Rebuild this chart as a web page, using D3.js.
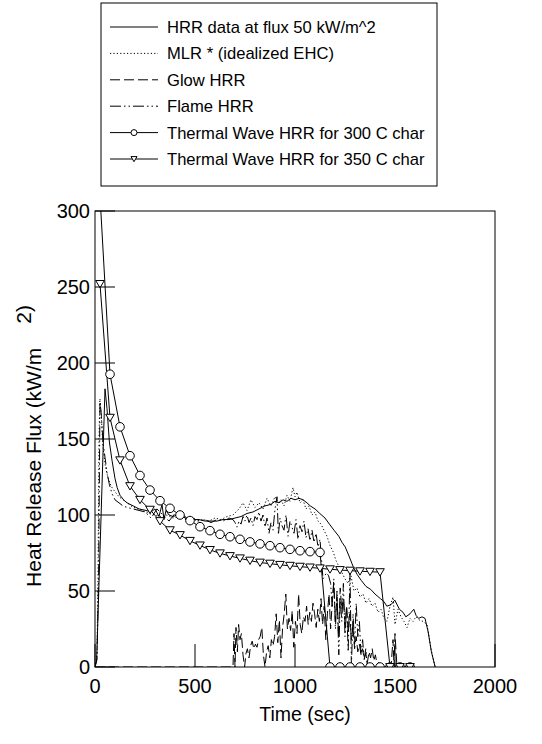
<!DOCTYPE html>
<html><head><meta charset="utf-8">
<script src="https://cdn.jsdelivr.net/npm/d3@7"></script>
<style>
body{margin:0;background:#fff;}
text{font-family:Arial,"Liberation Sans",Helvetica,sans-serif;fill:#000;}
</style></head>
<body><svg id="chart" width="542" height="744"></svg>
<script>
// ---------- data ----------
const xTicks=[0,500,1000,1500,2000];
const yTicks=[0,50,100,150,200,250,300];
const seriesNames=["HRR data at flux 50 kW/m^2","MLR * (idealized EHC)","Glow HRR","Flame HRR","Thermal Wave HRR for 300 C char","Thermal Wave HRR for 350 C char"];

const hrrTime=[0,8,50,60,72,85,100,111,125,143,160,191,220,255,280,300,320,335,345,355,370,390,410,430,460,490,520,550,580,610,640,670,700,730,760,790,820,850,880,900,920,940,960,980,1000,1020,1040,1060,1076,1100,1124,1150,1172,1195,1219,1235,1251,1270,1291,1310,1331,1355,1379,1400,1427,1445,1459,1480,1499,1522,1540,1554,1575,1594,1605,1618,1635,1650,1666,1682,1701];
const hrrValue=[0,4,183,170,148,136,124,118,113,110,108,106,104,103,102,104,99,107,97,103,100,99,100,101,98,97,97,96,96,96,97,97,98,99,101,102,104,106,107,109,108,110,109,111,110,111,110,108,106,104,101,98,94,90,86,82,79,73,66,61,57,53,51,48,45,43,40,41,44,38,36,33,35,38,34,32,33,32,23,10,0];

const mlrTime=[0,10,15,20,24,30,40,52,64,80,96,120,151,180,210,240,270,300,330,360,390,420,450,480,510,540,570,600,630,660,690,720,740,760,780,800,820,840,860,880,900,915,930,945,960,975,990,1000,1010,1025,1040,1055,1070,1085,1100,1115,1130,1145,1160,1175,1190,1205,1220,1235,1250,1265,1280,1295,1310,1325,1340,1355,1370,1385,1400,1415,1430,1445,1460,1475,1490,1500,1515,1530,1545,1560,1575,1590,1605,1620,1640,1660,1680,1700];
const mlrValue=[0,8,60,150,175,168,145,132,125,119,116,112,109,106,104,103,101,100,99,100,98,99,97,98,96,97,96,98,97,99,100,104,108,103,110,105,108,104,111,106,112,108,110,106,113,109,118,112,115,108,110,104,106,100,102,96,94,90,86,80,76,70,66,62,58,55,60,50,52,46,48,42,45,40,42,36,38,32,30,40,46,28,38,33,30,26,32,30,33,31,30,28,12,0];

const glowTime=[0,690,695,700,705,712,718,725,732,740,748,755,762,770,778,786,794,802,810,818,826,834,842,850,858,866,874,882,890,898,906,914,922,930,938,946,954,962,970,978,986,994,1002,1010,1018,1026,1034,1042,1050,1058,1066,1074,1082,1090,1098,1106,1114,1122,1130,1138,1146,1154,1162,1170,1178,1186,1194,1202,1210,1218,1226,1234,1242,1250,1258,1266,1274,1282,1290,1298,1306,1314,1322,1330,1338,1346,1354,1362,1370,1378,1386,1394,1402,1410,1418,1426,1480,1490,1495,1500,1510,1600];
const glowValue=[0,0,22,0,26,10,28,18,22,8,0,9,12,6,14,17,12,15,13,18,20,26,8,0,10,14,6,18,14,20,35,16,31,6,26,35,48,25,32,24,37,13,30,22,48,28,22,33,30,40,28,36,30,42,35,26,38,30,45,28,40,18,35,48,25,42,55,30,46,20,52,38,45,28,40,22,35,18,26,12,20,10,15,8,12,5,9,3,10,6,12,4,8,2,3,0,0,18,0,22,0,0];

const flameTime=[0,10,18,25,32,40,50,60,72,85,100,120,140,160,190,220,250,280,310,340,370,400,430,460,490,520,550,580,610,640,670,690,700,710,720,730,740,750,760,770,780,790,800,810,820,830,840,850,860,870,880,890,900,910,917,925,935,945,955,965,975,985,995,1005,1015,1025,1035,1045,1055,1065,1075,1085,1095,1105,1115,1125,1133,1140,1148,1158,1168,1178,1186,1194,1202,1210,1219,1226,1234,1242,1250,1258,1266,1275,1282,1290,1298,1306,1314,1322,1330,1338,1346,1354,1362,1380];
const flameValue=[0,5,60,176,165,148,138,128,120,114,110,108,106,105,104,103,102,98,104,100,96,101,99,97,98,96,97,95,97,96,98,97,95,92,96,94,99,96,100,95,98,93,99,97,102,96,100,92,98,88,95,90,104,112,87,98,93,90,100,86,96,92,88,97,84,93,89,96,85,91,83,90,82,88,79,84,70,58,60,62,60,55,40,58,25,50,8,45,30,55,20,40,10,62,0,35,15,42,20,30,8,18,5,12,0,0];

const twTime=[25,75,125,175,225,275,325,375,425,475,525,575,625,675,725,775,825,875,925,975,1025,1075,1125,1175,1225,1275,1325,1375,1425,1475,1525,1575];
const tw300Value=[310,192.6,158,139,126,116.4,109.4,104.4,100,96.3,92.3,89.7,87.3,85.7,84,82.3,81,79.8,78.5,77.4,76.5,75.9,75.4,0,0,0,0,0,0,0,0,0];
const tw350Value=[252,164,136,119,110,103.5,96,90,86.8,83,80,77,74.8,73,71.5,70,68.7,68,67.2,66.6,66,65.5,64.9,64.3,63.8,63.4,63,62.7,62.4,0,0,0];

// ---------- layout ----------
const L=95,R=495,T=211,B=667;
const svg=d3.select("#chart");
const x=d3.scaleLinear().domain([0,2000]).range([L,R]);
const y=d3.scaleLinear().domain([0,300]).range([B,T]);

svg.append("defs").append("clipPath").attr("id","clip")
  .append("rect").attr("x",L).attr("y",T).attr("width",R-L).attr("height",B-T);

const styles=[
  {dash:null},
  {dash:"1.2,2.2"},
  {dash:"10,4"},
  {dash:"11,3,1.5,3,1.5,3"},
  {dash:null,marker:"circle"},
  {dash:null,marker:"tri"}
];
const pairs=(t,v)=>t.map((ti,i)=>[ti,v[i]]);
const data=[pairs(hrrTime,hrrValue),pairs(mlrTime,mlrValue),pairs(glowTime,glowValue),pairs(flameTime,flameValue),pairs(twTime,tw300Value),pairs(twTime,tw350Value)];
const line=d3.line().x(d=>x(d[0])).y(d=>y(d[1]));

const plot=svg.append("g").attr("clip-path","url(#clip)");
[2,3,1,0,4,5].forEach(i=>{
  plot.append("path").datum(data[i]).attr("d",line)
    .attr("fill","none").attr("stroke","#000").attr("stroke-width",1)
    .attr("stroke-dasharray",styles[i].dash);
});
const triPath=(s)=>`M${-s},${-s*0.8}L${s},${-s*0.8}L0,${s*0.9}Z`;
function drawMarker(g,type,cx,cy,size){
  if(type==="circle"){
    g.append("circle").attr("cx",cx).attr("cy",cy).attr("r",size)
      .attr("fill","#fff").attr("stroke","#000").attr("stroke-width",1);
  } else {
    g.append("path").attr("d",triPath(size)).attr("transform",`translate(${cx},${cy})`)
      .attr("fill","#fff").attr("stroke","#000").attr("stroke-width",1);
  }
}
[4,5].forEach(i=>{
  data[i].forEach(d=>drawMarker(plot,styles[i].marker,x(d[0]),y(d[1]),4.3));
});

// frame & ticks
svg.append("rect").attr("x",L).attr("y",T).attr("width",R-L).attr("height",B-T)
  .attr("fill","none").attr("stroke","#000").attr("stroke-width",1);
yTicks.forEach(v=>{
  svg.append("line").attr("x1",L).attr("x2",L+20).attr("y1",y(v)).attr("y2",y(v)).attr("stroke","#000");
  svg.append("text").attr("x",L-5).attr("y",y(v)).attr("dy","0.36em")
    .attr("text-anchor","end").attr("font-size",20).text(v);
});
xTicks.forEach(v=>{
  svg.append("line").attr("x1",x(v)).attr("x2",x(v)).attr("y1",B).attr("y2",B-23).attr("stroke","#000");
  svg.append("text").attr("x",x(v)).attr("y",B+26)
    .attr("text-anchor","middle").attr("font-size",20).text(v);
});
svg.append("text").attr("x",(L+R)/2+10).attr("y",721).attr("text-anchor","middle")
  .attr("font-size",19.5).text("Time (sec)");
const yt=svg.append("text").attr("transform",`translate(41,446) rotate(-90)`)
  .attr("text-anchor","middle").attr("font-size",21);
yt.append("tspan").text("Heat Release Flux (kW/m");
yt.append("tspan").attr("dx",24).attr("dy",-10).text("2)");

// legend
const lg=svg.append("g");
lg.append("rect").attr("x",101).attr("y",3).attr("width",336).attr("height",183)
  .attr("fill","#fff").attr("stroke","#000").attr("stroke-width",1);
seriesNames.forEach((name,i)=>{
  const cy=27+i*26.4;
  lg.append("line").attr("x1",110).attr("x2",158).attr("y1",cy).attr("y2",cy)
    .attr("stroke","#000").attr("stroke-dasharray",styles[i].dash);
  if(styles[i].marker) drawMarker(lg,styles[i].marker,134,cy,3);
  lg.append("text").attr("x",167).attr("y",cy).attr("dy","0.36em")
    .attr("font-size",16.6).text(name);
});
</script></body></html>
